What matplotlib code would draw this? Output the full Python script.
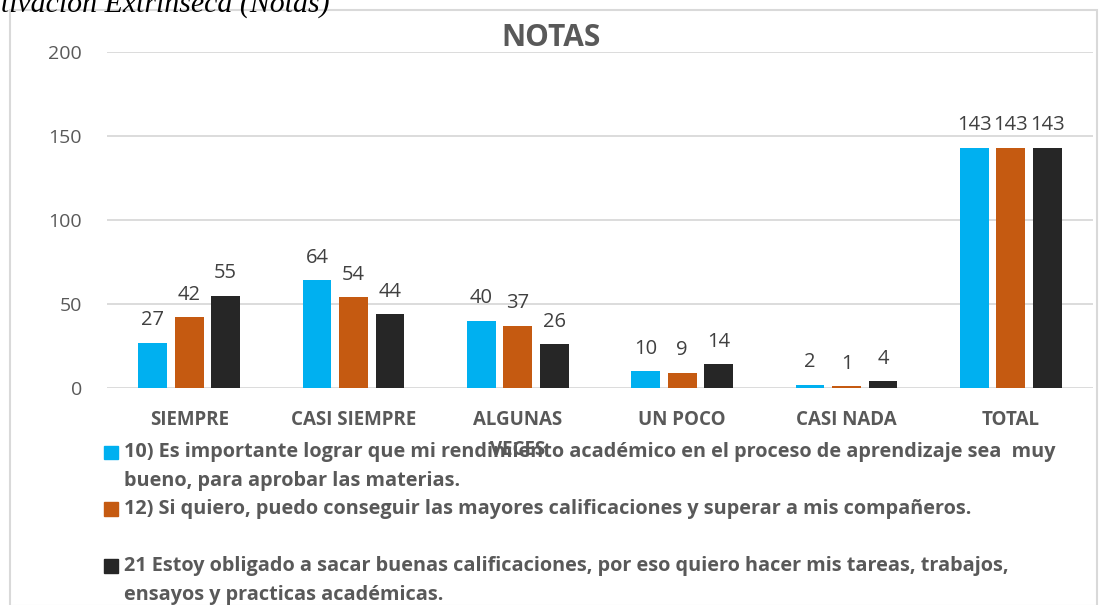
import matplotlib
matplotlib.use("Agg")
import matplotlib.pyplot as plt
from matplotlib.patches import Rectangle

W, H = 1103, 605

categories = ["SIEMPRE", "CASI SIEMPRE", "ALGUNAS\nVECES", "UN POCO", "CASI NADA", "TOTAL"]
item10 = [27, 64, 40, 10, 2, 143]
item12 = [42, 54, 37, 9, 1, 143]
item21 = [55, 44, 26, 14, 4, 143]
labels = [
    "10) Es importante lograr que mi rendimiento académico en el proceso de aprendizaje sea  muy\nbueno, para aprobar las materias.",
    "12) Si quiero, puedo conseguir las mayores calificaciones y superar a mis compañeros.",
    "21 Estoy obligado a sacar buenas calificaciones, por eso quiero hacer mis tareas, trabajos,\nensayos y practicas académicas.",
]
colors = ["#00B0F0", "#C55A11", "#262626"]

TXT = "#595959"
LBL = "#404040"
GRID = "#D9D9D9"

plt.rcParams["font.family"] = ["Open Sans", "DejaVu Sans"]

fig = plt.figure(figsize=(W / 100, H / 100), dpi=100)


def fx(px):
    return px / W


def fy(py):
    return 1 - py / H


# outer chart frame
fig.patches.append(Rectangle((fx(10), fy(606)), fx(1087), fy(10) - fy(606),
                             transform=fig.transFigure, fill=False,
                             edgecolor=GRID, linewidth=1.5))

# caption fragment cut at the top of the page
fig.text(fx(330), fy(12), "Motivación Extrínseca (Notas)", ha="right", va="baseline",
         fontsize=21.5, style="italic", family="Liberation Serif", color="black")

ax = fig.add_axes([fx(107), fy(388), fx(1093) - fx(107), fy(52) - fy(388)])

x = list(range(len(categories)))
w = 0.176
step = 0.222
series = [item10, item12, item21]
for i, (vals, c) in enumerate(zip(series, colors)):
    bars = ax.bar([k + (i - 1) * step for k in x], vals, width=w, color=c, zorder=3)
    ax.bar_label(bars, padding=9, fontsize=14.5, color=LBL)

ax.set_xlim(-0.5, len(categories) - 0.5)
ax.set_ylim(0, 200)
ax.set_yticks([0, 50, 100, 150, 200])
ax.tick_params(axis="y", length=0, pad=18, labelsize=14, labelcolor=TXT)
ax.set_xticks(x)
ax.set_xticklabels(categories, fontsize=13.5, fontweight="bold", color=TXT, linespacing=1.62)
ax.tick_params(axis="x", length=0, pad=16)
ax.grid(axis="y", color=GRID, linewidth=1.3, zorder=0)
for s in ax.spines.values():
    s.set_visible(False)

fig.text(0.5, fy(38), "NOTAS", ha="center", va="center", fontsize=21.5,
         fontweight="bold", color=TXT)

# legend
rows = [452.5, 509, 566]
for lab, c, yc in zip(labels, colors, rows):
    fig.patches.append(Rectangle((fx(104), fy(yc + 6.5)), fx(13.5), fy(0) - fy(13.5),
                                 transform=fig.transFigure, color=c))
    fig.text(fx(124), fy(yc - 10), lab, ha="left", va="top", fontsize=14.3,
             fontweight="bold", color=TXT, linespacing=1.57)

fig.savefig("out.png", dpi=100, facecolor="white")
